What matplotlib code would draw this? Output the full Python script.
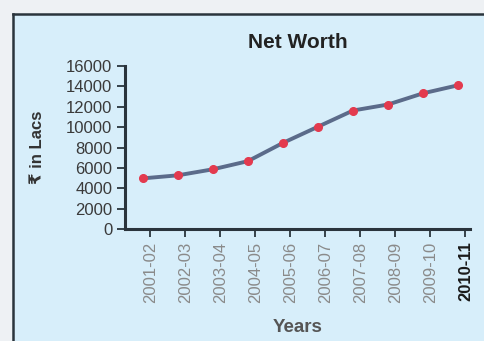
import matplotlib
matplotlib.use("Agg")
import matplotlib.pyplot as plt
from matplotlib.patches import Rectangle
from matplotlib.lines import Line2D
import numpy as np

years = ["2001-02", "2002-03", "2003-04", "2004-05", "2005-06",
         "2006-07", "2007-08", "2008-09", "2009-10", "2010-11"]
net_worth = [4970, 5270, 5860, 6660, 8450, 10040, 11630, 12220, 13320, 14110]
y_ticks = [0, 2000, 4000, 6000, 8000, 10000, 12000, 14000, 16000]

plt.rcParams['font.family'] = ['Liberation Sans', 'DejaVu Sans']

fig = plt.figure(figsize=(4.85, 3.41), dpi=100)
fig.patch.set_facecolor("#eef1f4")

# light blue panel with dark top/left border
panel_left = 13 / 485
panel_top = 1 - 14 / 341
fig.patches.append(Rectangle((panel_left, 0), 1 - panel_left, panel_top,
                             transform=fig.transFigure, facecolor="#d7eefa",
                             edgecolor="none", zorder=-5))
fig.lines.append(Line2D([panel_left, 1], [panel_top, panel_top], transform=fig.transFigure,
                        color="#2a343c", lw=1.8, zorder=-4))
fig.lines.append(Line2D([panel_left, panel_left], [0, panel_top], transform=fig.transFigure,
                        color="#2a343c", lw=1.8, zorder=-4))

ax = fig.add_axes([125 / 485, 112 / 341, 345 / 485, 163 / 341])
ax.set_facecolor("none")

x = np.arange(len(years))
ax.plot(x, net_worth, color="#5b6b8a", lw=2.8, zorder=2)
ax.plot(x, net_worth, linestyle="none", marker="o", ms=5.5, color="#e33a4e", zorder=3)

ax.set_xlim(-0.51, 9.34)
ax.set_ylim(0, 16000)
ax.set_yticks(y_ticks)
ax.set_yticklabels([str(v) for v in y_ticks], fontsize=12, color="#3a3a3a")
ax.set_xticks(x + 0.21)
ax.set_xticklabels(years, rotation=90, fontsize=12, color="#8a8a8a")
last = ax.get_xticklabels()[-1]
last.set_fontweight("bold")
last.set_color("#1a1a1a")

for s in ["top", "right"]:
    ax.spines[s].set_visible(False)
for s in ["left", "bottom"]:
    ax.spines[s].set_color("#2a343c")
    ax.spines[s].set_linewidth(2.2)
ax.tick_params(axis="y", direction="out", length=6, width=1.3, color="#2a343c", pad=3)
ax.tick_params(axis="x", direction="out", length=6, width=1.3, color="#2a343c", pad=3)

fig.text(298 / 485, 1 - 43 / 341, "Net Worth", ha="center", va="center",
         fontsize=15, fontweight="bold", color="#222222")
fig.text(298 / 485, 1 - 328 / 341, "Years", ha="center", va="center",
         fontsize=13.5, fontweight="bold", color="#555555")
fig.text(38 / 485, 1 - 147 / 341, "₹ in Lacs", ha="center", va="center", rotation=90,
         fontsize=12, fontweight="bold", color="#333333")

fig.savefig("out.png", dpi=100, facecolor=fig.get_facecolor())
